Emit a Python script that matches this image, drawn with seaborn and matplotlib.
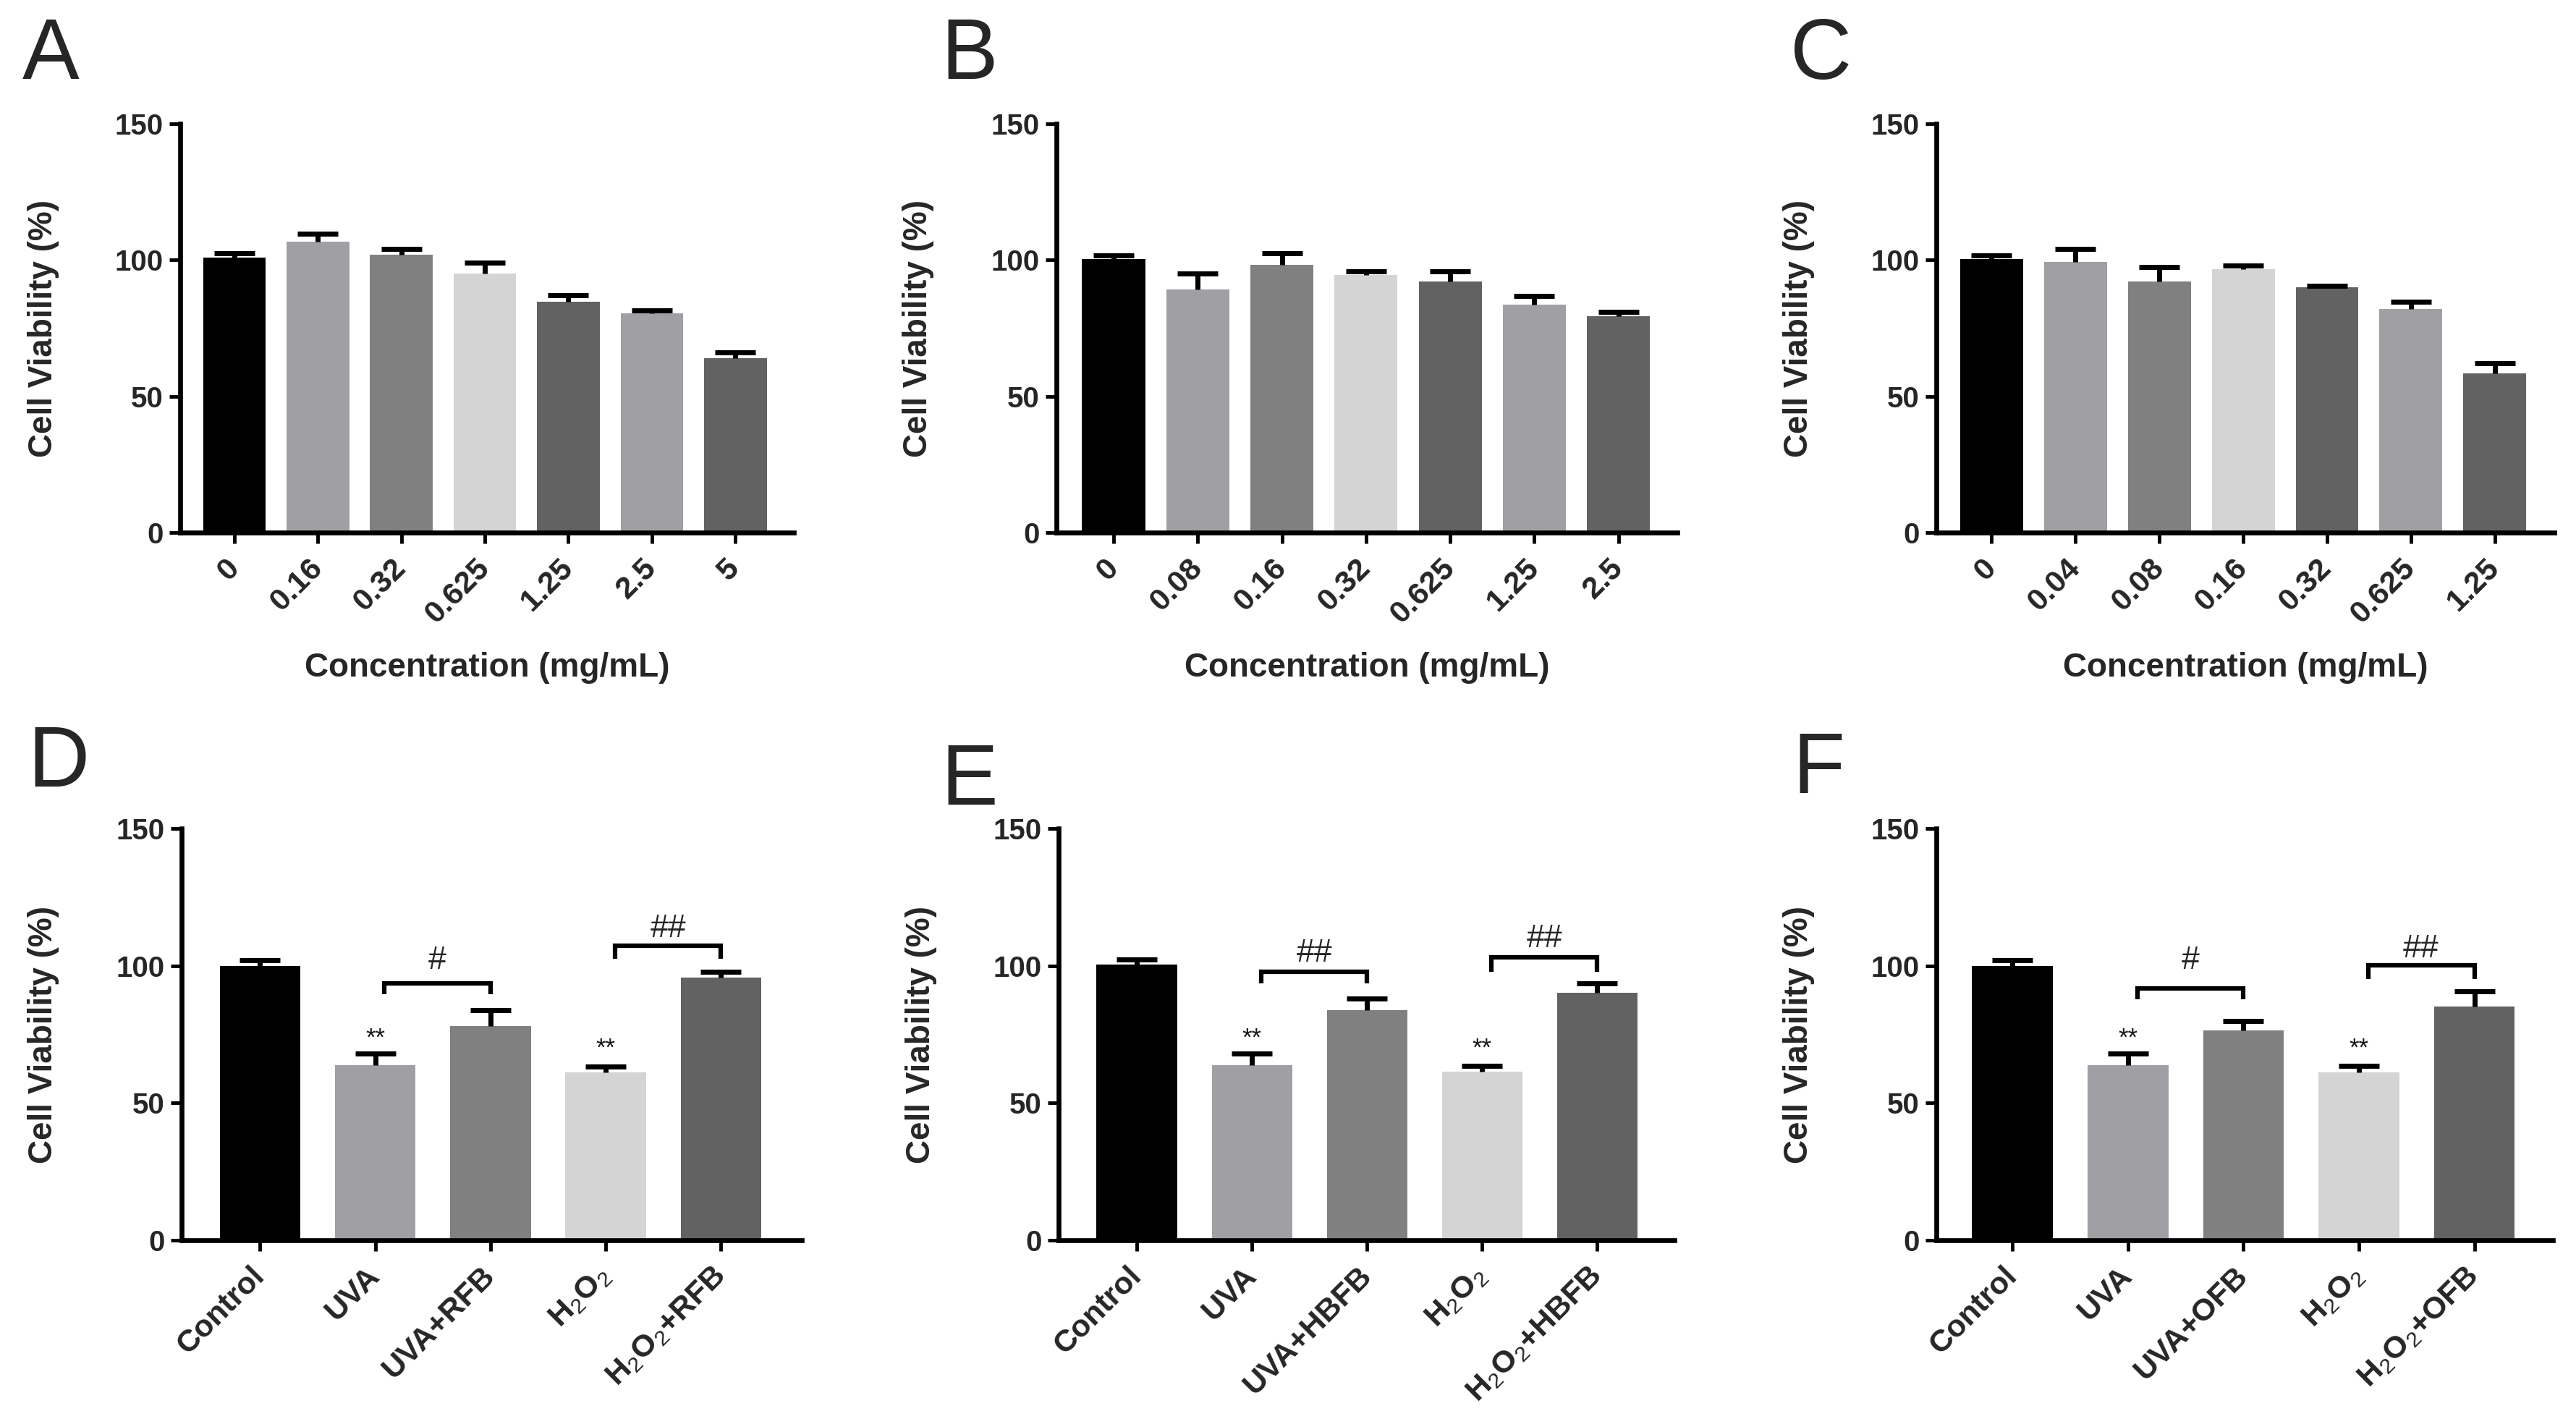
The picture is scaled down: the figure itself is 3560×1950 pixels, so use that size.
"""
Cell viability bar charts (panels A-F), GraphPad-like look, drawn with seaborn.
"""

import matplotlib
matplotlib.use('Agg')
import matplotlib.pyplot as plt
import pandas as pd
import seaborn as sns

# ---- data ----
conc_A = ['0', '0.16', '0.32', '0.625', '1.25', '2.5', '5']
via_A = [100.9, 106.6, 101.9, 95.0, 84.8, 80.5, 63.9]
err_A = [1.5, 3.0, 2.2, 4.0, 2.3, 1.0, 2.2]

conc_B = ['0', '0.08', '0.16', '0.32', '0.625', '1.25', '2.5']
via_B = [100.3, 89.2, 98.2, 94.6, 92.0, 83.7, 79.3]
err_B = [1.5, 5.9, 4.4, 1.2, 3.8, 3.1, 1.6]

conc_C = ['0', '0.04', '0.08', '0.16', '0.32', '0.625', '1.25']
via_C = [100.3, 99.2, 92.0, 96.6, 90.1, 82.0, 58.5]
err_C = [1.5, 4.9, 5.4, 1.3, 0.5, 2.8, 3.7]

groups_D = ['Control', 'UVA', 'UVA+RFB', 'H2O2', 'H2O2+RFB']
groups_E = ['Control', 'UVA', 'UVA+HBFB', 'H2O2', 'H2O2+HBFB']
groups_F = ['Control', 'UVA', 'UVA+OFB', 'H2O2', 'H2O2+OFB']

via_D = [99.9, 63.9, 78.0, 61.2, 95.6]
err_D = [2.0, 4.1, 5.7, 2.1, 2.3]
via_E = [100.5, 63.9, 83.8, 61.4, 90.2]
err_E = [1.8, 4.1, 4.3, 2.1, 3.3]
via_F = [99.9, 63.9, 76.5, 61.2, 85.2]
err_F = [2.0, 4.1, 3.4, 2.3, 5.4]

# significance marks: (** over UVA, ** over H2O2) and the two brackets
star_y = [73.4, 69.8]
brackets_D = [(1, 2, 93.6, 89.5, '#', 102.0), (3, 4, 107.3, 102.5, '##', 113.5)]
brackets_E = [(1, 2, 97.9, 93.5, '##', 104.5), (3, 4, 103.2, 97.9, '##', 109.7)]
brackets_F = [(1, 2, 91.7, 87.8, '#', 102.0), (3, 4, 100.2, 95.1, '##', 106.0)]

top_colors = ['#000000', '#a0a0a4', '#808080', '#d4d4d4', '#626262', '#a0a0a4', '#626262']
bottom_colors = ['#000000', '#a0a0a4', '#808080', '#d4d4d4', '#626262']

# ---- style ----
sns.set_style('ticks')
plt.rcParams['font.family'] = ['Liberation Sans', 'DejaVu Sans']
plt.rcParams['mathtext.fontset'] = 'custom'
plt.rcParams['mathtext.rm'] = 'Liberation Sans'
plt.rcParams['mathtext.it'] = 'Liberation Sans:italic'
plt.rcParams['mathtext.bf'] = 'Liberation Sans:bold'

YTICK_FS = 29
XTICK_FS = 31
LABEL_FS = 33
LETTER_FS = 85


def tick_text(name):
    """Turn H2O2 into a label with thin subscript digits."""
    return name.replace('H2O2', r'H$_\mathrm{2}$O$_\mathrm{2}$')


def draw_panel(ax, labels, values, errs, colors, width, xlim, xlabel=None):
    df = pd.DataFrame({'group': labels, 'viability': values})
    sns.barplot(data=df, x='group', y='viability', hue='group', order=labels,
                hue_order=labels, palette=colors, legend=False, saturation=1,
                width=width, linewidth=0, ax=ax)
    # upper-only error bars
    lo = [0] * len(values)
    eb = ax.errorbar(range(len(values)), values, yerr=[lo, errs], fmt='none',
                     ecolor='black', elinewidth=5, capsize=20, capthick=5, zorder=3)
    for cap in eb[1]:
        if list(cap.get_ydata()) == list(values):
            cap.set_visible(False)

    ax.set_xlim(*xlim)
    ax.set_ylim(0, 150)
    ax.set_yticks([0, 50, 100, 150])
    ax.set_xticks(range(len(labels)))
    ax.set_xticklabels([tick_text(l) for l in labels], rotation=45, ha='right',
                       va='center', rotation_mode='anchor', fontsize=XTICK_FS,
                       fontweight='bold')
    for lbl in ax.get_yticklabels():
        lbl.set_fontsize(YTICK_FS)
        lbl.set_fontweight('bold')
    ax.tick_params(axis='both', length=11, width=3.5, color='black')
    ax.tick_params(axis='y', pad=6)
    ax.tick_params(axis='x', pad=20)
    sns.despine(ax=ax)
    for side in ['left', 'bottom']:
        ax.spines[side].set_linewidth(4.8)
        ax.spines[side].set_color('black')

    ax.set_ylabel('Cell Viability (%)', fontsize=LABEL_FS, fontweight='bold')
    ax.yaxis.set_label_coords(-0.197, 0.5)
    if xlabel:
        ax.set_xlabel(xlabel, fontsize=LABEL_FS, fontweight='bold')
        ax.xaxis.set_label_coords(0.5, -0.292)
    else:
        ax.set_xlabel('')


def add_marks(ax, brackets):
    for x, y in zip([1, 3], star_y):
        ax.text(x, y, '**', fontsize=25, ha='center', va='center', color='#1a1a1a')
    for i, j, ytop, ylow, mark, ytext in brackets:
        x1, x2 = i + 0.08, j
        ax.plot([x1, x1, x2, x2], [ylow, ytop, ytop, ylow], color='black',
                lw=4.5, solid_capstyle='butt', solid_joinstyle='miter', clip_on=False)
        ax.text((x1 + x2) / 2, ytext, mark, fontsize=32, ha='center', va='center')


fig = plt.figure(figsize=(35.6, 19.5), dpi=100)

W, H = 3560.0, 1950.0
top_b, top_h = 1 - 736 / H, (736 - 171) / H
bot_b, bot_h = 1 - 1714 / H, (1714 - 1145) / H
axA = fig.add_axes([249 / W, top_b, (1097 - 249) / W, top_h])
axB = fig.add_axes([1460 / W, top_b, (2318 - 1460) / W, top_h])
axC = fig.add_axes([2676 / W, top_b, (3530 - 2676) / W, top_h])
axD = fig.add_axes([251 / W, bot_b, (1108 - 251) / W, bot_h])
axE = fig.add_axes([1463 / W, bot_b, (2314 - 1463) / W, bot_h])
axF = fig.add_axes([2676 / W, bot_b, (3528 - 2676) / W, bot_h])

xlab = 'Concentration (mg/mL)'
draw_panel(axA, conc_A, via_A, err_A, top_colors, 0.75, (-0.65, 6.70), xlab)
draw_panel(axB, conc_B, via_B, err_B, top_colors, 0.75, (-0.68, 6.70), xlab)
draw_panel(axC, conc_C, via_C, err_C, top_colors, 0.75, (-0.66, 6.71), xlab)
draw_panel(axD, groups_D, via_D, err_D, bottom_colors, 0.70, (-0.68, 4.70))
draw_panel(axE, groups_E, via_E, err_E, bottom_colors, 0.70, (-0.68, 4.67))
draw_panel(axF, groups_F, via_F, err_F, bottom_colors, 0.70, (-0.66, 4.68))

add_marks(axD, brackets_D)
add_marks(axE, brackets_E)
add_marks(axF, brackets_F)

# panel letters
for letter, x, y in [('A', 0.0087, 0.944), ('B', 0.3652, 0.944), ('C', 0.6950, 0.944),
                     ('D', 0.0107, 0.4426), ('E', 0.3652, 0.4297), ('F', 0.6960, 0.4380)]:
    fig.text(x, y, letter, fontsize=LETTER_FS, ha='left', va='baseline')

fig.savefig('out.png', dpi=100)
